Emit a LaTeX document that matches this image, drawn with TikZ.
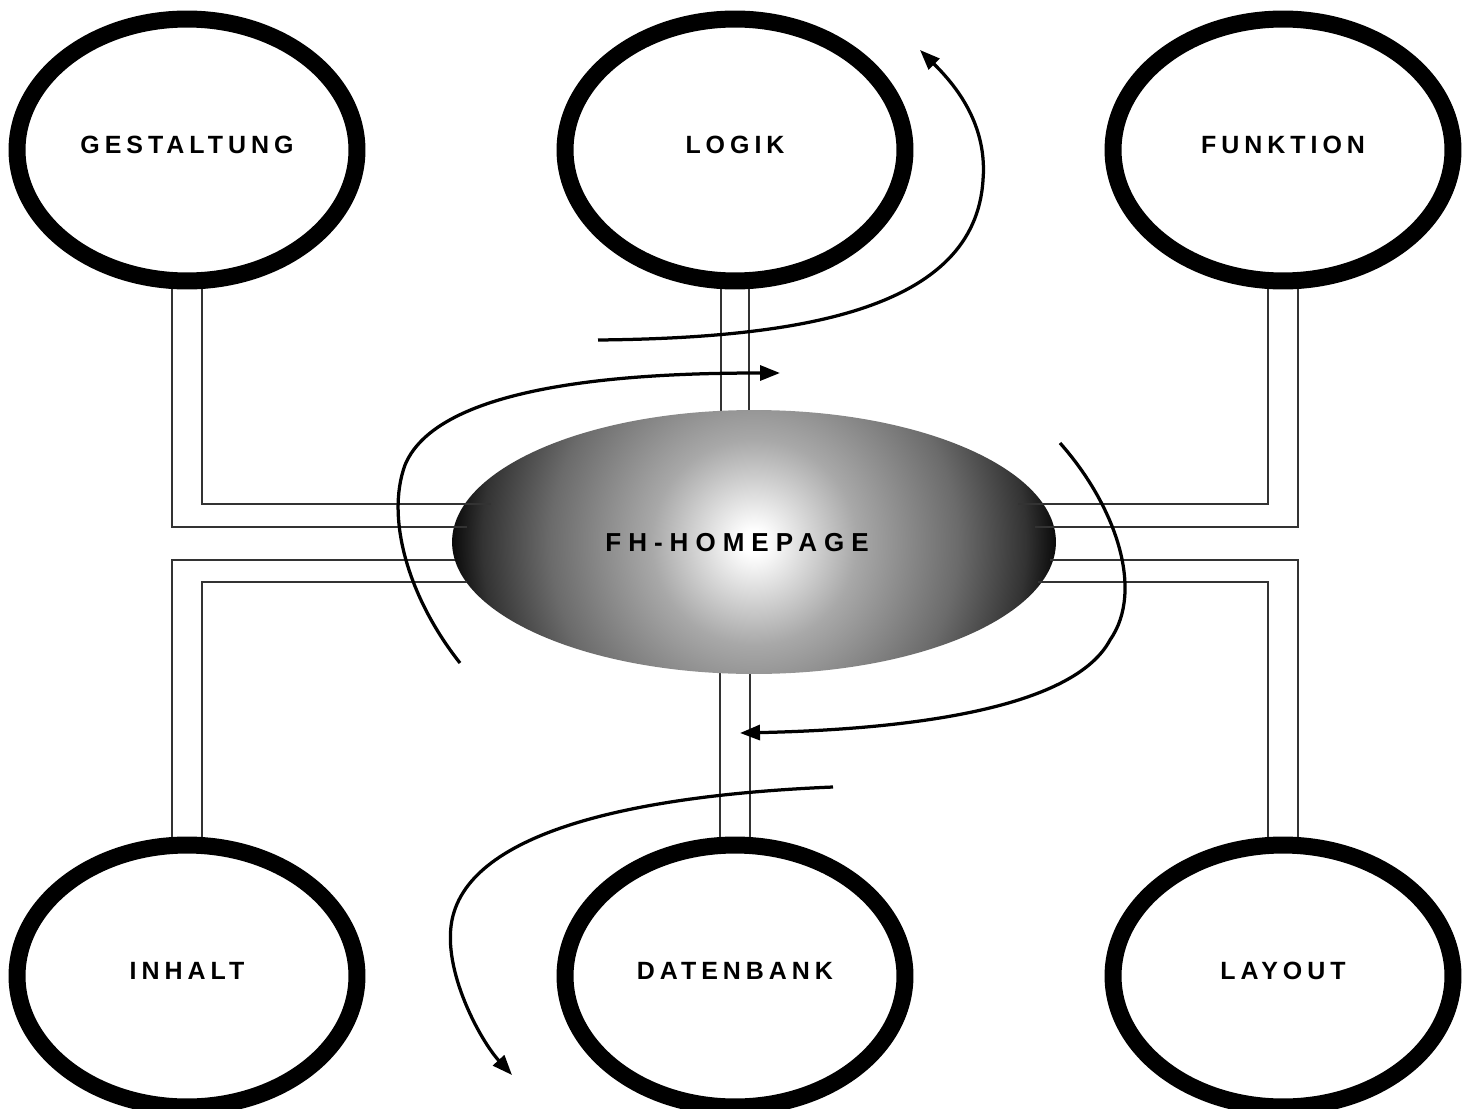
\documentclass[tikz,border=0pt]{standalone}
\usepackage{fontspec}
\setmainfont{Liberation Sans}
\usetikzlibrary{arrows.meta,positioning,shapes.geometric,calc}
\pgfdeclareradialshading{hubshade}{\pgfpoint{0bp}{0bp}}{color(0bp)=(white); color(1bp)=(white); color(8.5bp)=(black!34); color(16.9bp)=(black!58); color(22.5bp)=(black!80); color(25bp)=(black!96); color(50bp)=(black)}
\tikzset{
  topicell/.style={draw,ellipse,line width=0.34cm,minimum width=6.8cm,minimum height=5.24cm,inner sep=0pt,text depth=0.2cm,
    font=\fontsize{14.2}{14.2}\selectfont\bfseries\addfontfeature{LetterSpace=20}},
  hubell/.style={ellipse,minimum width=12.08cm,minimum height=5.28cm,inner sep=0pt,
    path picture={\shade[shading=hubshade] (path picture bounding box.center) circle (6.04cm);}},
  hubtext/.style={font=\fontsize{14.8}{14.8}\selectfont\bfseries\addfontfeature{LetterSpace=27}},
  linkline/.style={draw=black!80,line width=0.03cm},
  flowarrow/.style={line width=0.065cm,-{Triangle[length=0.4cm,width=0.3cm]}}
}
\begin{document}
\begin{tikzpicture}[x=0.02cm,y=-0.02cm]
  \useasboundingbox (0,0) rectangle (1469,1108);
  \node[topicell] (gest) at (187,150) {GESTALTUNG};
  \node[topicell] (logik) at (735,150) {LOGIK};
  \node[topicell] (funk) at (1283,150) {FUNKTION};
  \node[topicell] (inh) at (187,976) {INHALT};
  \node[topicell] (db) at (735,976) {DATENBANK};
  \node[topicell] (lay) at (1283,976) {LAYOUT};

  \draw[linkline] ($(logik.south)+(-14,0)$) -- ++(0,122);
  \draw[linkline] ($(logik.south)+(14,0)$) -- ++(0,122);
  \draw[linkline] ($(db.north)+(-15,0)$) -- ++(0,-166);
  \draw[linkline] ($(db.north)+(15,0)$) -- ++(0,-166);

  \node[hubell] (hp) at (754,542) {};
  \node[hubtext] (hptext) at (737,543) {FH-HOMEPAGE};

  \draw[linkline] ($(gest.south)+(-15,0)$) |- ($(hp.west)+(15,-15)$);
  \draw[linkline] ($(gest.south)+(15,0)$) |- ($(hp.west)+(39,-38)$);
  \draw[linkline] ($(inh.north)+(-15,0)$) |- ($(hp.west)+(3,18)$);
  \draw[linkline] ($(inh.north)+(15,0)$) |- ($(hp.west)+(15,40)$);
  \draw[linkline] ($(funk.south)+(-15,0)$) |- ($(hp.east)+(-38,-38)$);
  \draw[linkline] ($(funk.south)+(15,0)$) |- ($(hp.east)+(-21,-15)$);
  \draw[linkline] ($(lay.north)+(15,0)$) |- ($(hp.east)+(-6,18)$);
  \draw[linkline] ($(lay.north)+(-15,0)$) |- ($(hp.east)+(-18,40)$);

  \coordinate (upstart) at (598,340);
  \coordinate (upend) at (920,50);
  \coordinate (leftstart) at (460,663);
  \coordinate (leftend) at (780,373);
  \coordinate (rightstart) at (1060,443);
  \coordinate (rightend) at (740,733);
  \coordinate (downstart) at (833,787);
  \coordinate (downend) at (512,1075);

  \draw[flowarrow] (upstart) .. controls (800,338) and (975,310) .. (983,180)
    .. controls (988,120) and (950,80) .. (upend);
  \draw[flowarrow] (leftstart) .. controls (410,600) and (385,520) .. (405,465)
    .. controls (440,380) and (650,373) .. (leftend);
  \draw[flowarrow] (rightstart) .. controls (1115,505) and (1145,590) .. (1110,640)
    .. controls (1070,715) and (880,730) .. (rightend);
  \draw[flowarrow] (downstart) .. controls (640,795) and (470,830) .. (452,920)
    .. controls (442,970) and (480,1040) .. (downend);
\end{tikzpicture}
\end{document}
